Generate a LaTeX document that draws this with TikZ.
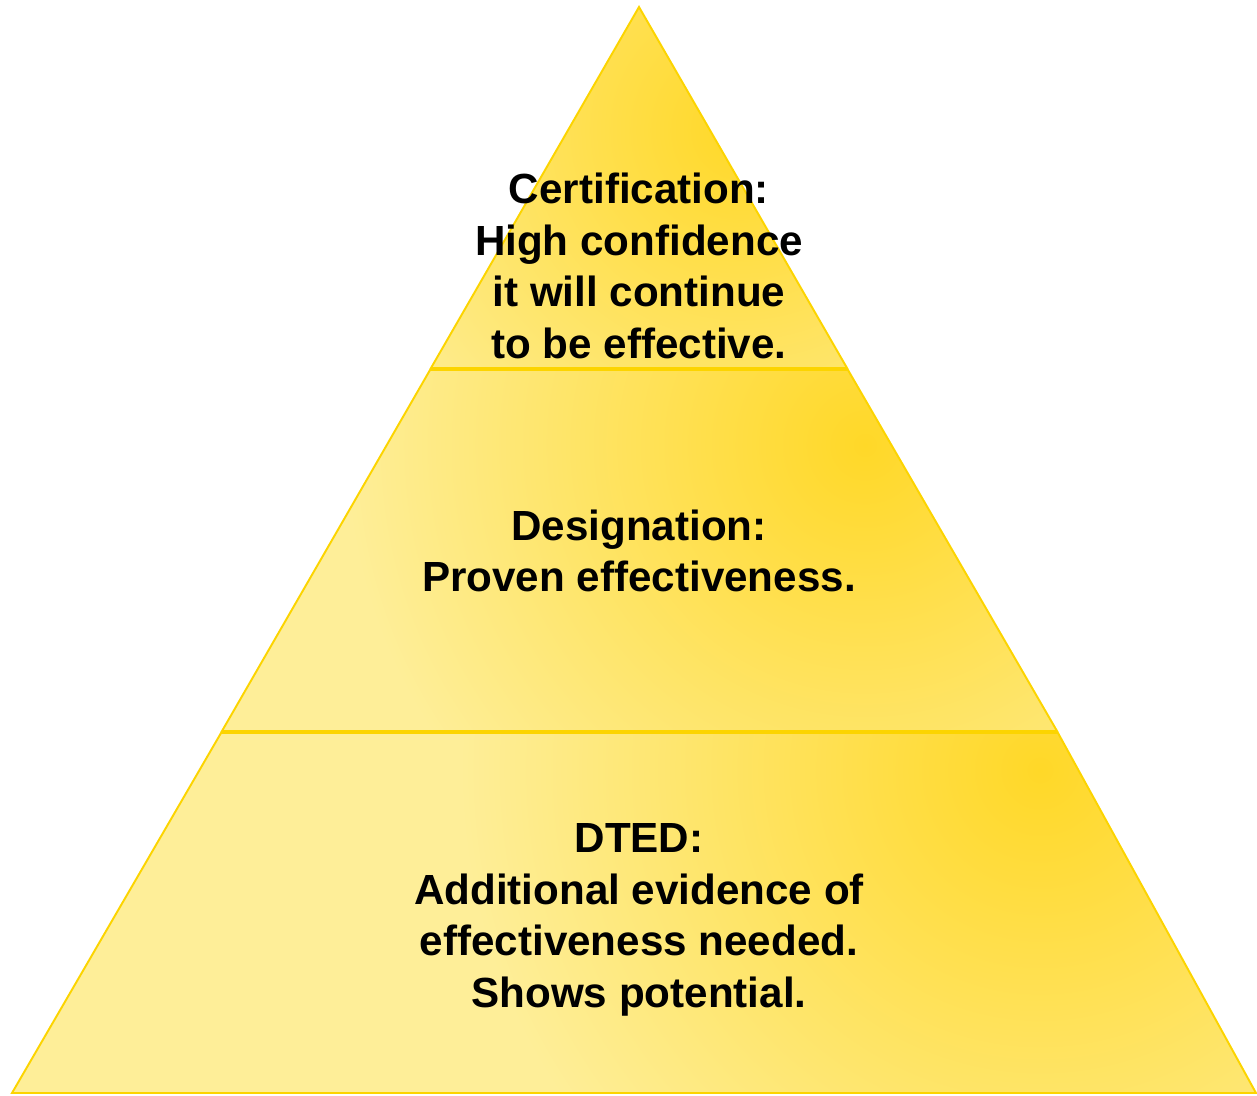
\documentclass[tikz,border=0pt]{standalone}
\usepackage{fontspec}
\setmainfont{Liberation Sans}
\usetikzlibrary{positioning, calc}
\definecolor{Clite}{RGB}{254,238,152}
\definecolor{Chot}{RGB}{255,216,40}
\definecolor{Cbdr}{RGB}{252,212,0}
\tikzset{
  layer/.style={draw=Cbdr, line width=1.1pt, line join=miter},
  glow/.style={inner color=Chot, outer color=Clite},
  lbl/.style={align=center, inner sep=0pt, text=black,
    font=\fontsize{24}{29.4}\selectfont\bfseries}
}

\begin{document}
\begin{tikzpicture}[x=0.02cm, y={(0cm,-0.02cm)}]

\useasboundingbox (0,0) rectangle (1257,1095);

% ─────────────────────────────────────────────────────────────────────────────
%  corners of the three layers
% ─────────────────────────────────────────────────────────────────────────────
\coordinate (apex) at (639,7);
\coordinate (t1l) at (431,368);  \coordinate (t1r) at (847,368);
\coordinate (m0l) at (430,370);  \coordinate (m0r) at (848,370);
\coordinate (m1l) at (222,731);  \coordinate (m1r) at (1057,731);
\coordinate (b0l) at (221,733);  \coordinate (b0r) at (1058,733);
\coordinate (b1l) at (12,1093);  \coordinate (b1r) at (1256,1093);

% ─────────────────────────────────────────────────────────────────────────────
%  TOP  certification
% ─────────────────────────────────────────────────────────────────────────────
\begin{scope}
  \clip (apex) -- (t1r) -- (t1l) -- cycle;
  \fill[Clite] (apex) -- (t1r) -- (t1l) -- cycle;
  \shade[glow] (740,130) circle (440);
\end{scope}
\draw[layer] (apex) -- (t1r) -- (t1l) -- cycle;

% ─────────────────────────────────────────────────────────────────────────────
%  MIDDLE  designation
% ─────────────────────────────────────────────────────────────────────────────
\begin{scope}
  \clip (m0l) -- (m0r) -- (m1r) -- (m1l) -- cycle;
  \fill[Clite] (m0l) -- (m0r) -- (m1r) -- (m1l) -- cycle;
  \shade[glow] (865,445) circle (520);
\end{scope}
\draw[layer] (m0l) -- (m0r) -- (m1r) -- (m1l) -- cycle;

% ─────────────────────────────────────────────────────────────────────────────
%  BOTTOM  DTED
% ─────────────────────────────────────────────────────────────────────────────
\begin{scope}
  \clip (b0l) -- (b0r) -- (b1r) -- (b1l) -- cycle;
  \fill[Clite] (b0l) -- (b0r) -- (b1r) -- (b1l) -- cycle;
  \shade[glow] (1040,770) circle (580);
\end{scope}
\draw[layer] (b0l) -- (b0r) -- (b1r) -- (b1l) -- cycle;

% labels
\node[lbl] (cert) at (639,266)
  {Certification:\\High confidence\\it will continue\\to be effective.};
\node[lbl] (desig) at (639,551)
  {Designation:\\Proven effectiveness.};
\node[lbl] (dted) at (639,920)
  {DTED:\\Additional evidence of\\effectiveness needed.\\Shows potential.};

\end{tikzpicture}
\end{document}
